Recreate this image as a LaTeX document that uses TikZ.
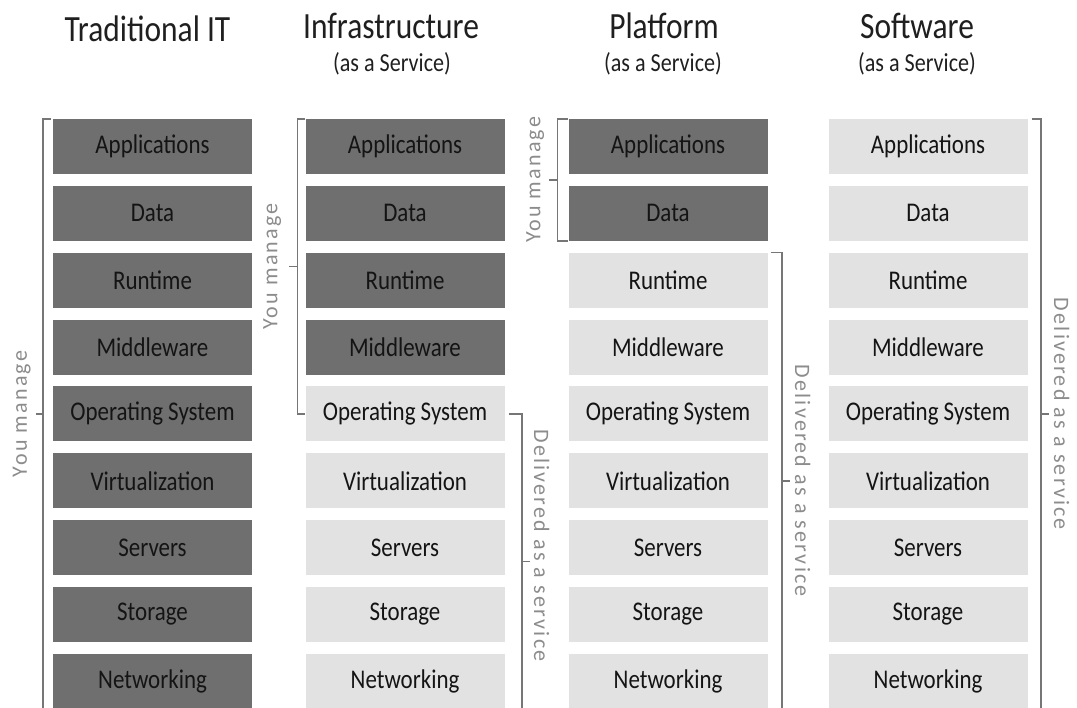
\documentclass[tikz,border=0pt]{standalone}
\usepackage{fontspec}
\setmainfont[FakeStretch=0.85]{Carlito}
\newfontfamily\sidefont[LetterSpace=10]{Carlito}
\usetikzlibrary{calc}
\definecolor{darkbox}{RGB}{111,111,111}
\definecolor{lightbox}{RGB}{226,226,226}
\definecolor{bracketgray}{RGB}{118,118,118}
\definecolor{labelgray}{RGB}{140,140,140}
\tikzstyle{layer}=[rectangle,minimum width=199pt,minimum height=55pt,inner sep=0pt,text=black!92,font=\fontsize{27}{27}\selectfont]
\tikzstyle{managed}=[layer,fill=darkbox]
\tikzstyle{delivered}=[layer,fill=lightbox]
\tikzstyle{bracket}=[draw=bracketgray,line width=1.6pt]
\tikzstyle{sidelabel}=[text=labelgray,inner sep=0pt,font=\sidefont\fontsize{22}{22}\selectfont]
\tikzstyle{title}=[anchor=base,text=black!88,font=\fontsize{37}{37}\selectfont]
\tikzstyle{subtitle}=[anchor=base,text=black!88,font=\fontsize{26}{26}\selectfont]

\begin{document}
\begin{tikzpicture}[x=1pt,y=1pt]
\useasboundingbox (0,0) rectangle (1077,-708);

   \def\h{66.86};
   \def\y{-146.5};

% Titles
  \node[title] (tradT) at (147.5,-42) {Traditional IT};
  \node[title] (infT) at (391,-39) {Infrastructure};
  \node[subtitle] (infS) at (392,-72) {(as a Service)};
  \node[title] (platT) at (664,-39) {Platform};
  \node[subtitle] (platS) at (663,-72) {(as a Service)};
  \node[title] (softT) at (917,-39) {Software};
  \node[subtitle] (softS) at (917,-72) {(as a Service)};

%layers
  \foreach \i/\lbl/\stI/\stP in {1/Applications/managed/managed, 2/Data/managed/managed, 3/Runtime/managed/delivered, 4/Middleware/managed/delivered, 5/Operating System/delivered/delivered, 6/Virtualization/delivered/delivered, 7/Servers/delivered/delivered, 8/Storage/delivered/delivered, 9/Networking/delivered/delivered}
  {
    \node[managed] (T\i) at (152.5,{\y-(\i-1)*\h}) {\lbl};
    \node[\stI] (I\i) at (405,{\y-(\i-1)*\h}) {\lbl};
    \node[\stP] (P\i) at (668,{\y-(\i-1)*\h}) {\lbl};
    \node[delivered] (S\i) at (928,{\y-(\i-1)*\h}) {\lbl};
  }

%Traditional IT
  \draw[bracket] ($(T1.north west)+(-2,0)$) -| ($(T9.south west)+(-10,0)$);
  \coordinate (Tm) at ($(T1.north west)!0.5!(T9.south west)$);
  \draw[bracket] ($(Tm)+(-10,0)$) -- ++(-7,0);
  \node[sidelabel,rotate=90] (youT) at ($(Tm)+(-31,0)$) {You manage};

%Infrastructure
  \draw[bracket] (I1.north west) -- ++(-8,0) |- (I5.west);
  \coordinate (Im) at ($(I1.north west)!0.5!(I5.west)$);
  \draw[bracket] ($(Im)+(-8,0)$) -- ++(-8,0);
  \node[sidelabel,rotate=90] (youI) at ($(Im)+(-33,0)$) {You manage};
  \draw[bracket] ($(I5.east)+(4,0)$) -| ($(I9.south east)+(17,0)$);
  \coordinate (In) at ($(I5.east)!0.5!(I9.south east)$);
  \draw[bracket] ($(In)+(17,0)$) -- ++(8,0);
  \node[sidelabel,rotate=-90] (delI) at ($(In)+(37,16)$) {Delivered as a service};

%Platform
  \draw[bracket] (P1.north west) -- ++(-11,0) |- (P2.south west);
  \coordinate (Pm) at ($(P1.north west)!0.5!(P2.south west)$);
  \draw[bracket] ($(Pm)+(-11,0)$) -- ++(-8,0);
  \node[sidelabel,rotate=90] (youP) at ($(Pm)+(-33,0)$) {You manage};
  \draw[bracket] ($(P3.north east)+(3,0)$) -| ($(P9.south east)+(14,0)$);
  \coordinate (Pn) at ($(P3.north east)!0.5!(P9.south east)$);
  \draw[bracket] ($(Pn)+(14,0)$) -- ++(8,0);
  \node[sidelabel,rotate=-90] (delP) at ($(Pn)+(35,0)$) {Delivered as a service};

%Software
  \draw[bracket] ($(S1.north east)+(4,0)$) -| ($(S9.south east)+(13,0)$);
  \coordinate (Sn) at ($(S1.north east)!0.5!(S9.south east)$);
  \draw[bracket] ($(Sn)+(13,0)$) -- ++(8,0);
  \node[sidelabel,rotate=-90] (delS) at ($(Sn)+(34,0)$) {Delivered as a service};

\end{tikzpicture}
\end{document}
